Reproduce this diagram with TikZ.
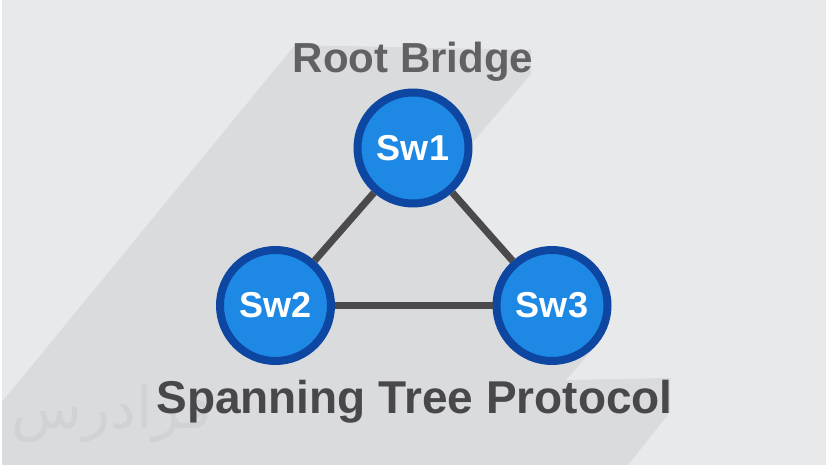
\documentclass[tikz,border=0pt]{standalone}
\usepackage{fontspec}
\setmainfont{Liberation Sans}
\newfontfamily\arabicfont[Script=Arabic]{DejaVu Sans}
\TeXXeTstate=1
\usetikzlibrary{positioning}
\definecolor{bgcolor}{RGB}{232,233,235}
\definecolor{shadowcolor}{RGB}{218,219,221}
\definecolor{swfill}{RGB}{30,136,229}
\definecolor{swborder}{RGB}{13,71,161}
\definecolor{linkcolor}{RGB}{74,74,76}
\definecolor{rootcolor}{RGB}{97,97,99}
\definecolor{titlecolor}{RGB}{72,72,74}
\definecolor{markcolor}{RGB}{209,210,212}
\tikzset{switch/.style=
   {circle,
    draw=swborder,
    fill=swfill,
    line width=8pt,
    minimum size=111pt,
    inner sep=0pt,
    text=white,
    font=\fontsize{36}{40}\selectfont\bfseries}}
\tikzset{rootlabel/.style =
   {anchor=base,
    inner sep=0pt,
    text=rootcolor,
    font=\fontsize{42}{48}\selectfont\bfseries}}
\tikzset{titlelabel/.style =
   {anchor=base,
    inner sep=0pt,
    text=titlecolor,
    font=\fontsize{46}{52}\selectfont\bfseries}}
\tikzset{watermark/.style =
   {anchor=base,
    inner sep=0pt,
    text=markcolor,
    font=\fontsize{58}{64}\arabicfont}}
\tikzset{link/.style = {draw=linkcolor, line width=7pt}}

\begin{document}
\begin{tikzpicture}[x=1pt, y=-1pt]

    \useasboundingbox (0,0) rectangle (828,465);
    \fill[white] (0,0) rectangle (828,465);
    \fill[bgcolor] (2,0) rectangle (826,465);

    % long shadow
    \fill[shadowcolor] (295,45) -- (531,50) -- (531,74) -- (473,142)
        -- (413,148) -- (552,305) -- (598,343) -- (566,380)
        -- (670,378) -- (670,412) -- (628,465) -- (2,465)
        -- (2,402) -- cycle;

    \node [watermark] (mark) at (112,428) {\beginR فرادرس\endR};

    \node [rootlabel] (root) at (413,73) {Root Bridge};

    \node [switch] (sw1) at (413,148) {Sw1};
    \node [switch] (sw2) at (275.5,305.5) {Sw2};
    \node [switch] (sw3) at (552,305.5) {Sw3};

    \draw [link] (sw1) -- (sw2);
    \draw [link] (sw1) -- (sw3);
    \draw [link] (sw2) -- (sw3);

    \node [titlelabel] (title) at (414.5,413) {Spanning Tree Protocol};

\end{tikzpicture}
\end{document}
